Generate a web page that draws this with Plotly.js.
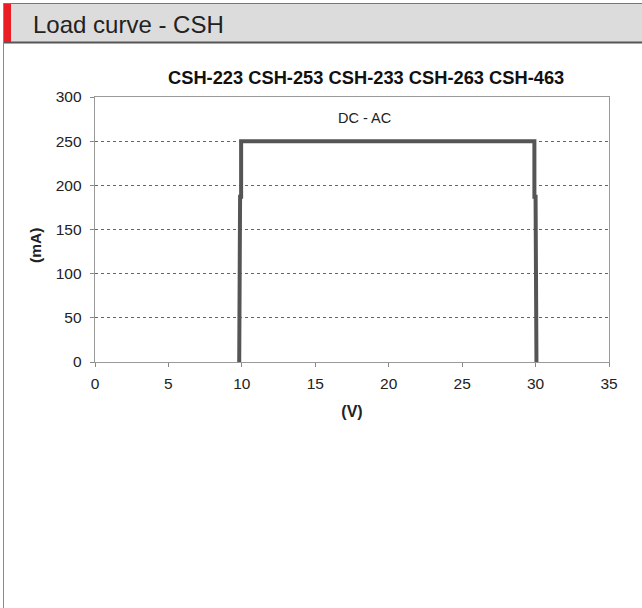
<!DOCTYPE html>
<html>
<head>
<meta charset="utf-8">
<script src="https://cdn.plot.ly/plotly-3.0.1.min.js"></script>
<style>
html,body{margin:0;padding:0;background:#fff;}
#chart{width:642px;height:608px;}
</style>
</head>
<body>
<div id="chart"></div>
<script>
// Data
var voltage = [9.82, 9.82, 9.88, 9.88, 9.95, 9.95, 29.92, 29.92, 30.0, 30.0, 30.06, 30.06];
var current = [0, 65, 65, 187, 187, 250, 250, 187, 187, 65, 65, 0];
var xTicks = [0, 5, 10, 15, 20, 25, 30, 35];
var yTicks = [0, 50, 100, 150, 200, 250, 300];
var chartTitle = "CSH-223 CSH-253 CSH-233 CSH-263 CSH-463";
var headerText = "Load curve - CSH";
var noteText = "DC - AC";

var W = 642, H = 608;
var ML = 95, MR = 33, MT = 97, MB = 246;
var PW = W - ML - MR, PH = H - MT - MB;
function px(x){ return (x - ML) / PW; }
function py(y){ return (H - MB - y) / PH; }

var font = "Liberation Sans, Arial, sans-serif";

var trace = {
  x: voltage, y: current, type: 'scatter', mode: 'lines',
  line: {color: '#555555', width: 4},
  hoverinfo: 'skip', cliponaxis: false
};

var layout = {
  width: W, height: H,
  margin: {l: ML, r: MR, t: MT, b: MB, pad: 0},
  paper_bgcolor: '#ffffff', plot_bgcolor: '#ffffff',
  showlegend: false,
  font: {family: font, color: '#222222', size: 15},
  xaxis: {
    range: [0, 35], tickvals: xTicks, ticktext: xTicks.map(String),
    showgrid: false, zeroline: false,
    showline: true, mirror: true, linecolor: '#999999', linewidth: 1.3,
    ticks: 'outside', ticklen: 4, tickcolor: '#888888', tickwidth: 1,
    ticklabelstandoff: 3,
    tickfont: {family: font, size: 15.5, color: '#222222'},
    title: {text: '<b>(V)</b>', font: {family: font, size: 16, color: '#222222'}, standoff: 15},
    fixedrange: true
  },
  yaxis: {
    range: [0, 300], tickvals: yTicks, ticktext: yTicks.map(String),
    showgrid: true, gridcolor: '#666666', gridwidth: 1, griddash: 'dot',
    zeroline: false,
    showline: true, mirror: true, linecolor: '#999999', linewidth: 1.3,
    ticks: 'outside', ticklen: 4, tickcolor: '#888888', tickwidth: 1,
    ticklabelstandoff: 5,
    tickfont: {family: font, size: 15.5, color: '#222222'},
    fixedrange: true
  },
  shapes: [
    // header band
    {type: 'rect', xref: 'paper', yref: 'paper', x0: px(3), x1: px(642), y0: py(3), y1: py(42),
     fillcolor: '#dcdcdd', line: {width: 0}, layer: 'below'},
    {type: 'line', xref: 'paper', yref: 'paper', x0: px(3), x1: px(642), y0: py(3.5), y1: py(3.5),
     line: {color: '#777777', width: 1}},
    {type: 'line', xref: 'paper', yref: 'paper', x0: px(3), x1: px(642), y0: py(42.5), y1: py(42.5),
     line: {color: '#555555', width: 2}},
    {type: 'rect', xref: 'paper', yref: 'paper', x0: px(3), x1: px(11), y0: py(4), y1: py(42),
     fillcolor: '#ea1c24', line: {width: 0}},
    {type: 'line', xref: 'paper', yref: 'paper', x0: px(3.5), x1: px(3.5), y0: py(3), y1: py(608),
     line: {color: '#8a8a8a', width: 1}}
  ],
  annotations: [
    {text: headerText, xref: 'paper', yref: 'paper', x: px(31), y: py(24),
     xanchor: 'left', yanchor: 'middle', showarrow: false,
     font: {family: font, size: 24, color: '#222222'}},
    {text: '<b>' + chartTitle + '</b>', xref: 'paper', yref: 'paper', x: px(365.5), y: py(77),
     xanchor: 'center', yanchor: 'middle', showarrow: false,
     font: {family: font, size: 18.3, color: '#111111'}},
    {text: noteText, xref: 'paper', yref: 'paper', x: px(364), y: py(118),
     xanchor: 'center', yanchor: 'middle', showarrow: false,
     font: {family: font, size: 14.5, color: '#222222'}},
    {text: '<b>(mA)</b>', xref: 'paper', yref: 'paper', x: px(35), y: py(246),
     xanchor: 'center', yanchor: 'middle', showarrow: false, textangle: -90,
     font: {family: font, size: 15.5, color: '#222222'}}
  ]
};

Plotly.newPlot('chart', [trace], layout, {displayModeBar: false, staticPlot: true});
</script>
</body>
</html>
